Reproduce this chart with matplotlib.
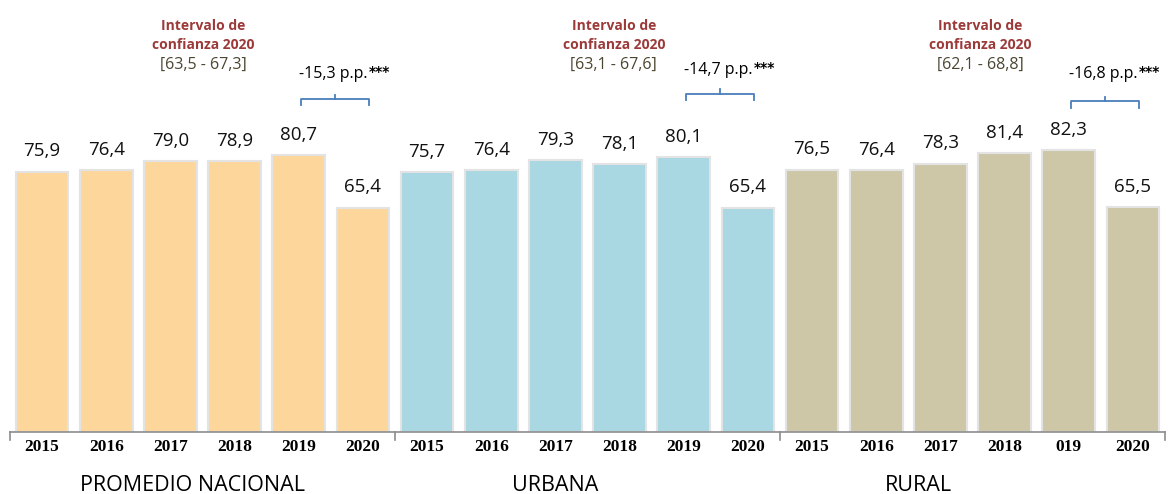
import numpy as np
import matplotlib.pyplot as plt

# data
years = ["2015", "2016", "2017", "2018", "2019", "2020"]
rural_ticks = ["2015", "2016", "2017", "2018", "019", "2020"]
groups = ["PROMEDIO NACIONAL", "URBANA", "RURAL"]
nacional = [75.9, 76.4, 79.0, 78.9, 80.7, 65.4]
urbana = [75.7, 76.4, 79.3, 78.1, 80.1, 65.4]
rural = [76.5, 76.4, 78.3, 81.4, 82.3, 65.5]
intervals = ["[63,5 - 67,3]", "[63,1 - 67,6]", "[62,1 - 68,8]"]
diffs = ["-15,3 p.p.", "-14,7 p.p.", "-16,8 p.p."]

colors = ["#FDD69C", "#A9D7E2", "#CDC7A7"]

fig = plt.figure(figsize=(11.72, 4.94), dpi=100)
ax = fig.add_axes([10 / 1172, 62 / 494, 1155 / 1172, 432 / 494])

series = [nacional, urbana, rural]
width = 0.82
ticklabels = []
for g, vals in enumerate(series):
    x = np.arange(6) + g * 6
    ax.bar(x, vals, width=width, color=colors[g], edgecolor="#E3E3E3", linewidth=1.5, zorder=2)
    for xi, v in zip(x, vals):
        ax.text(xi, v + 3.3, f"{v:.1f}".replace(".", ","), ha="center", va="bottom",
                fontsize=13.5, family="Open Sans", color="#111111")
    ticklabels += rural_ticks if g == 2 else years

ax.set_xlim(-0.5, 17.5)
ax.set_ylim(0, 126)
ax.set_yticks([])
for s in ["top", "right", "left"]:
    ax.spines[s].set_visible(False)
ax.spines["bottom"].set_color("#8C8C8C")
ax.spines["bottom"].set_linewidth(1.2)

ax.set_xticks(np.arange(18))
ax.set_xticklabels(ticklabels, fontsize=12.5, family="Liberation Serif", fontweight="bold")
ax.tick_params(axis="x", length=0, pad=5)
# group separator ticks
for xb in [-0.5, 5.5, 11.5, 17.5]:
    ax.plot([xb, xb], [0, -2.2], color="#8C8C8C", lw=1.2, clip_on=False)

# group names
group_x = [2.35, 8.0, 13.65]
for gx, name in zip(group_x, groups):
    ax.text(gx, -15.5, name, ha="center", va="center", fontsize=15.5, family="Open Sans")

# confidence interval notes
note_x = [2.51, 8.91, 14.62]
for nx, iv in zip(note_x, intervals):
    ax.text(nx, 115.6, "Intervalo de\nconfianza 2020", ha="center", va="center",
            fontsize=10, fontweight="bold", color="#9C3A3A", family="Open Sans", linespacing=1.45)
    ax.text(nx, 107, iv, ha="center", va="center", fontsize=11.5, color="#4B4630",
            family="Open Sans")

# brackets for 2019-2020 drop
bracket_y = [95.3, 96.8, 94.5]
text_y = [104.4, 105.5, 104.4]
diff_texts = []
for g, (by, d) in enumerate(zip(bracket_y, diffs)):
    x0 = g * 6 + 4.03
    x1 = g * 6 + 5.1
    xm = (x0 + x1) / 2
    ax.plot([x0, x0, x1, x1], [by, by + 1.9, by + 1.9, by], color="#4A7EBB", lw=1.3)
    ax.plot([xm, xm], [by + 1.9, by + 3.1], color="#4A7EBB", lw=1.3)
    t = ax.text(g * 6 + 4.0, text_y[g], d, ha="left", va="center", fontsize=11.5,
                family="Open Sans")
    diff_texts.append(t)

fig.canvas.draw()
for t in diff_texts:
    bb = t.get_window_extent()
    ax.annotate("***", xy=(bb.x1, bb.y1), xycoords="figure pixels", xytext=(1, -9),
                textcoords="offset points", fontsize=10, fontweight="bold", ha="left",
                va="bottom", family="DejaVu Sans")

fig.savefig("out.png", dpi=100)
